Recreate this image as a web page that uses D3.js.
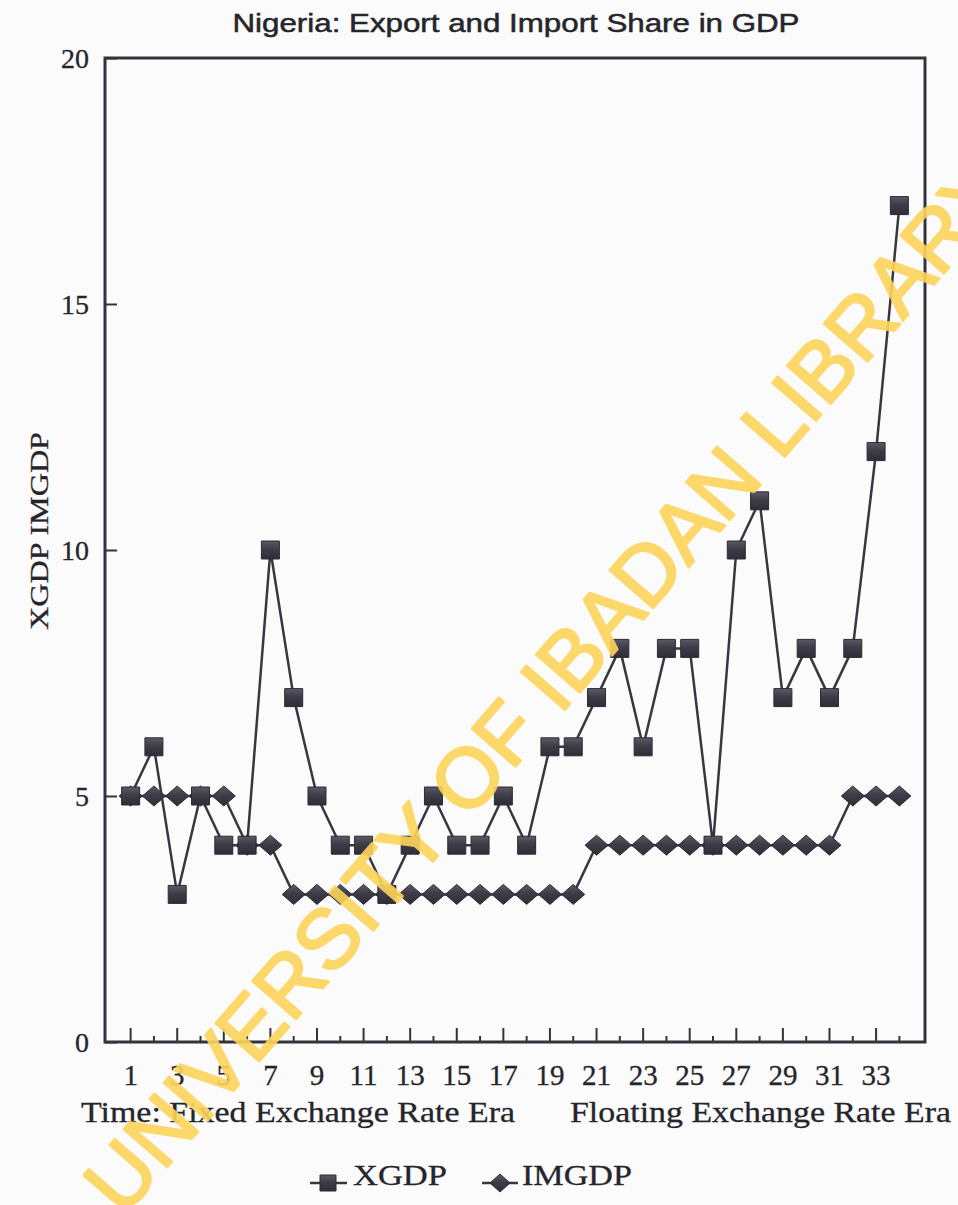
<!DOCTYPE html>
<html>
<head>
<meta charset="utf-8">
<script src="https://cdn.jsdelivr.net/npm/d3@7"></script>
<style>
  body { margin: 0; background: #fbfbfc; }
  svg { display: block; }
</style>
</head>
<body>
<svg id="chart" width="958" height="1205"></svg>
<script>
// Observation index (years, numbered from 1)
const periods = d3.range(1, 35);
// Export share in GDP (%)
const xgdp = [5, 6, 3, 5, 4, 4, 10, 7, 5, 4, 4, 3, 4, 5, 4, 4, 5, 4, 6, 6,
              7, 8, 6, 8, 8, 4, 10, 11, 7, 8, 7, 8, 12, 17];
// Import share in GDP (%)
const imgdp = [5, 5, 5, 5, 5, 4, 4, 3, 3, 3, 3, 3, 3, 3, 3, 3, 3, 3, 3, 3,
               4, 4, 4, 4, 4, 4, 4, 4, 4, 4, 4, 5, 5, 5];
const yTicks = [0, 5, 10, 15, 20];
const xTickLabels = d3.range(1, 34, 2);

const svg = d3.select("#chart");
const serif = "'Liberation Serif', 'Times New Roman', serif";
const sans = "'Liberation Sans', Arial, sans-serif";
const ink = "#34333b";
const textInk = "#26252b";

const plot = { left: 105, right: 925, top: 58, bottom: 1042 };

const x = d3.scaleLinear().domain([-0.1, 35.1]).range([plot.left, plot.right]);
const y = d3.scaleLinear().domain([0, 20]).range([plot.bottom, plot.top]);

// Title
svg.append("text")
  .attr("x", 516).attr("y", 32)
  .attr("text-anchor", "middle")
  .attr("font-family", sans).attr("font-size", 25)
  .attr("fill", textInk).attr("stroke", textInk).attr("stroke-width", 0.5)
  .attr("textLength", 567).attr("lengthAdjust", "spacingAndGlyphs")
  .text("Nigeria: Export and Import Share in GDP");

// Y axis: ticks point into the plot
const yAxis = d3.axisRight(y).tickValues(yTicks).tickSize(12).tickFormat("");
svg.append("g").attr("transform", `translate(${plot.left},0)`).call(yAxis)
  .call(g => g.select(".domain").remove())
  .call(g => g.selectAll("line").attr("stroke", ink).attr("stroke-width", 2));

svg.append("g").selectAll("text").data(yTicks).join("text")
  .attr("x", 89).attr("y", d => y(d))
  .attr("dy", "0.35em")
  .attr("text-anchor", "end")
  .attr("font-family", serif).attr("font-size", 28)
  .attr("fill", textInk).attr("stroke", textInk).attr("stroke-width", 0.3)
  .text(d => d);

// X axis: tall ticks at odd periods, short ticks at even periods
const xAxisG = svg.append("g").attr("transform", `translate(0,${plot.bottom})`);
xAxisG.selectAll("line").data(periods).join("line")
  .attr("x1", d => x(d)).attr("x2", d => x(d))
  .attr("y1", 0).attr("y2", d => d % 2 ? -14 : -6)
  .attr("stroke", ink).attr("stroke-width", 2);

xAxisG.selectAll("text").data(xTickLabels).join("text")
  .attr("x", d => x(d)).attr("y", 43)
  .attr("text-anchor", "middle")
  .attr("font-family", serif).attr("font-size", 29)
  .attr("fill", textInk).attr("stroke", textInk).attr("stroke-width", 0.3)
  .text(d => d);

// Plot frame
svg.append("rect")
  .attr("x", plot.left).attr("y", plot.top)
  .attr("width", plot.right - plot.left).attr("height", plot.bottom - plot.top)
  .attr("fill", "none").attr("stroke", ink).attr("stroke-width", 3);

// Axis titles
svg.append("text")
  .attr("transform", "translate(48,531) rotate(-90)")
  .attr("text-anchor", "middle")
  .attr("font-family", serif).attr("font-size", 25)
  .attr("fill", textInk).attr("stroke", textInk).attr("stroke-width", 0.3)
  .attr("textLength", 198).attr("lengthAdjust", "spacingAndGlyphs")
  .text("XGDP IMGDP");

svg.append("text")
  .attr("x", 81).attr("y", 1122)
  .attr("font-family", serif).attr("font-size", 30)
  .attr("fill", textInk).attr("stroke", textInk).attr("stroke-width", 0.3)
  .attr("textLength", 434).attr("lengthAdjust", "spacingAndGlyphs")
  .text("Time: Fixed Exchange Rate Era");

svg.append("text")
  .attr("x", 570).attr("y", 1122)
  .attr("font-family", serif).attr("font-size", 30)
  .attr("fill", textInk).attr("stroke", textInk).attr("stroke-width", 0.3)
  .attr("textLength", 381).attr("lengthAdjust", "spacingAndGlyphs")
  .text("Floating Exchange Rate Era");

// Markers
const squarePath = "M-9,-9H9V9H-9Z";
const diamondPath = "M0,-10L11.5,0L0,10L-11.5,0Z";

const defs = svg.append("defs");
const grad = defs.append("linearGradient").attr("id", "markerFill")
  .attr("x1", 0).attr("y1", 0).attr("x2", 0).attr("y2", 1);
grad.append("stop").attr("offset", "0%").attr("stop-color", "#5b5a66");
grad.append("stop").attr("offset", "45%").attr("stop-color", "#3d3c47");
grad.append("stop").attr("offset", "100%").attr("stop-color", "#2f2e38");

const line = d3.line().x((d, i) => x(periods[i])).y(d => y(d));

function drawSeries(values, path, cls) {
  const g = svg.append("g").attr("class", cls);
  g.append("path").datum(values)
    .attr("d", line)
    .attr("fill", "none").attr("stroke", "#38373f").attr("stroke-width", 2.5)
    .attr("stroke-linejoin", "round");
  g.selectAll("path.mark").data(values).join("path")
    .attr("class", "mark")
    .attr("transform", (d, i) => `translate(${x(periods[i])},${y(d)})`)
    .attr("d", path)
    .attr("fill", "url(#markerFill)").attr("stroke", "#2c2b33").attr("stroke-width", 1);
}

drawSeries(imgdp, diamondPath, "imgdp");
drawSeries(xgdp, squarePath, "xgdp");

// Legend
const legend = svg.append("g");
const legendItems = [
  { name: "XGDP", path: "M-8,-8H8V8H-8Z", lx1: 310, lx2: 347, cx: 328, tx: 353, tl: 94 },
  { name: "IMGDP", path: "M0,-9L10,0L0,9L-10,0Z", lx1: 482, lx2: 518, cx: 500, tx: 522, tl: 110 }
];
legendItems.forEach(it => {
  legend.append("line")
    .attr("x1", it.lx1).attr("x2", it.lx2).attr("y1", 1183).attr("y2", 1183)
    .attr("stroke", "#38373f").attr("stroke-width", 2.5);
  legend.append("path")
    .attr("transform", `translate(${it.cx},1183)`)
    .attr("d", it.path)
    .attr("fill", "url(#markerFill)").attr("stroke", "#2c2b33").attr("stroke-width", 1);
  legend.append("text")
    .attr("x", it.tx).attr("y", 1185)
    .attr("font-family", serif).attr("font-size", 29)
    .attr("fill", textInk).attr("stroke", textInk).attr("stroke-width", 0.3)
    .attr("textLength", it.tl).attr("lengthAdjust", "spacingAndGlyphs")
    .text(it.name);
});

// Library stamp across the page
svg.append("text")
  .attr("transform", "translate(123,1218) rotate(-49)")
  .attr("font-family", sans).attr("font-size", 84)
  .attr("fill", "#fdd55c").attr("stroke", "#fdd55c").attr("stroke-width", 2.5)
  .attr("stroke-linejoin", "round")
  .attr("opacity", 0.9)
  .text("UNIVERSITY OF IBADAN LIBRARY");
</script>
</body>
</html>
